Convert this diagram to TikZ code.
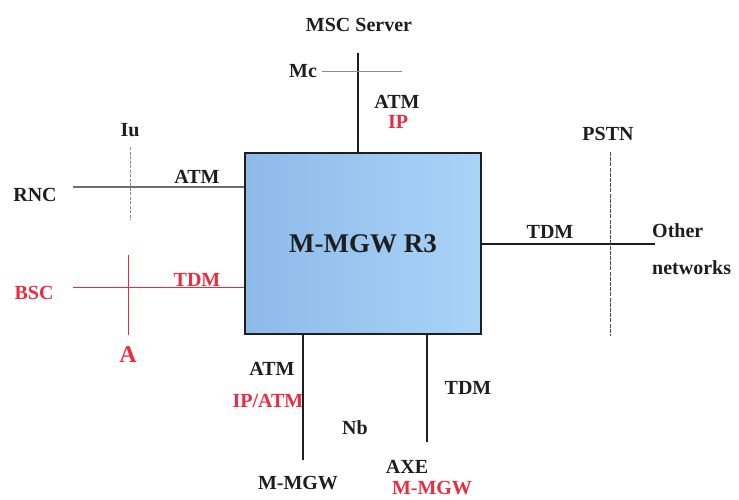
\documentclass[tikz,border=0pt]{standalone}
\usepackage{fontspec}
\setmainfont{Liberation Serif}
\usepackage{tikz}
\usetikzlibrary{calc,positioning}
\definecolor{Ink}{HTML}{1E1E1E}
\definecolor{Slate}{HTML}{6E6E6E}
\definecolor{Ash}{HTML}{8C8C8C}
\definecolor{Signal}{HTML}{EC2B3E}
\definecolor{SkyDeep}{HTML}{8EBAEA}
\definecolor{SkyPale}{HTML}{A9D3F7}

\begin{document}
\begin{tikzpicture}[x=1pt,y=-1pt,
    lbl/.style={text=Ink,inner sep=0pt,font=\fontsize{20}{22}\selectfont\bfseries},
    redlbl/.style={lbl,text=Signal},
    wire/.style={Ink,line width=1.1pt},
    greywire/.style={Slate,line width=1.3pt},
    redwire/.style={Signal,line width=1pt},
    cut/.style={Ash,line width=0.8pt,dash pattern=on 3pt off 1.5pt}]
    \useasboundingbox (0,0) rectangle (739,499);
    \fill[white] (0,0) rectangle (739,499);

    % gateway box
    \node[draw=Ink,line width=1.4pt,left color=SkyDeep,right color=SkyPale,minimum width=236pt,minimum height=181pt,
      inner sep=0pt,text=Ink,font=\fontsize{27}{30}\selectfont\bfseries] (mgw) at (363,243.5) {M-MGW R3};

    % MSC server side
    \node[lbl] (msc) at (359,25) {MSC Server};
    \node[lbl] (mc) at (303,71) {Mc};
    \coordinate (msctop) at (358,53);
    \coordinate (mcend) at (402,71);
    \draw[wire] (mgw.north -| msctop) -- (msctop);
    \draw[Ash,line width=0.8pt] ([xshift=5pt]mc.east) -- (mcend);
    \node[lbl] (atmtop) at (397,102) {ATM};
    \node[redlbl] (iptop) at (398,122) {IP};

    % RNC and BSC side
    \node[lbl] (rnc) at (35,195) {RNC};
    \node[lbl] (iu) at (130,130) {Iu};
    \node[lbl] (atmleft) at (197,177) {ATM};
    \coordinate (rncend) at (73,187);
    \draw[greywire] (rncend) -- (rncend -| mgw.west);
    \coordinate (iutop) at (130,147);
    \coordinate (iubot) at (130,220);
    \draw[cut] (iutop) -- (iubot);

    \node[redlbl] (bsc) at (34,293) {BSC};
    \node[redlbl] (tdmleft) at (197,280) {TDM};
    \node[redlbl,font=\fontsize{24}{26}\selectfont\bfseries] (aif) at (128,355) {A};
    \coordinate (bscend) at (73,287);
    \draw[redwire] (bscend) -- (bscend -| mgw.west);
    \coordinate (atop) at (128,255);
    \draw[redwire,line width=0.8pt] (atop) -- (atop |- mgw.south);

    % PSTN side
    \node[lbl] (pstn) at (608,134) {PSTN};
    \node[lbl] (tdmright) at (550,232) {TDM};
    \node[lbl,anchor=west,align=left,font=\fontsize{20}{37}\selectfont\bfseries] (other) at (652,249) {Other\\networks};
    \coordinate (otherend) at (655,244);
    \draw[wire] (otherend -| mgw.east) -- (otherend);
    \coordinate (pstntop) at (610,152);
    \coordinate (pstnbot) at (610,336);
    \draw[Ink!80,line width=0.8pt,dash pattern=on 4pt off 1.2pt] (pstntop) -- (pstnbot);

    % Nb side
    \node[lbl] (atmbot) at (272,369) {ATM};
    \node[redlbl] (ipatm) at (268,401) {IP/ATM};
    \node[lbl] (nb) at (355,428) {Nb};
    \node[lbl] (mgwpeer) at (298,483) {M-MGW};
    \coordinate (peerend) at (303,460);
    \draw[wire] (peerend |- mgw.south) -- (peerend);

    \node[lbl] (tdmbot) at (468,388) {TDM};
    \node[lbl] (axe) at (407,467) {AXE};
    \node[redlbl] (axemgw) at (432,488) {M-MGW};
    \coordinate (axeend) at (427,442);
    \draw[wire] (axeend |- mgw.south) -- (axeend);
  \end{tikzpicture}
\end{document}
